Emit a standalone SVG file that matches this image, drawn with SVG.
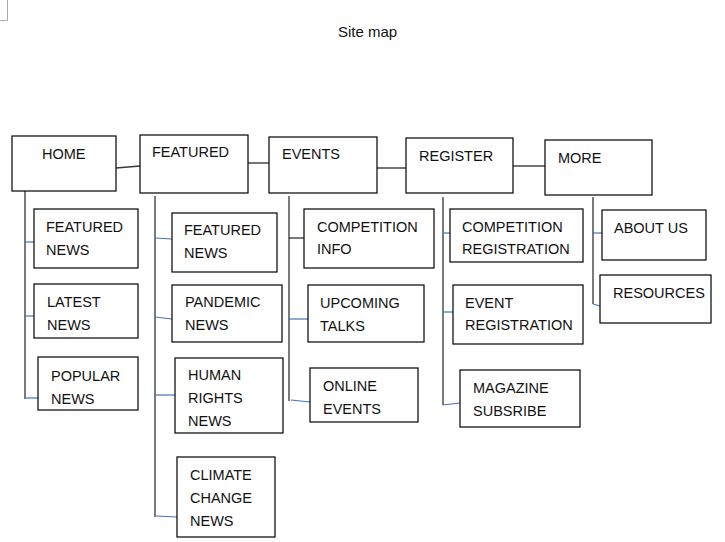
<svg xmlns="http://www.w3.org/2000/svg" width="725" height="542" viewBox="0 0 725 542">
<style>
rect.b{fill:#fff;stroke:#000;stroke-width:1.2}
text{font-family:"Liberation Sans",Arial,sans-serif;font-size:14.5px;fill:#111}
.v{stroke:#5a5a5a;stroke-width:1.6;fill:none}
.h{stroke:#3a3a3a;stroke-width:1.4;fill:none}
.br{stroke:#4472c4;stroke-width:1.2;fill:none}
.brk{stroke:#222;stroke-width:1.2;fill:none}
</style>
<rect width="725" height="542" fill="#fff"/>
<path d="M0 20.5H7.5V0" fill="none" stroke="#aaa" stroke-width="1"/>
<text x="338" y="37" style="font-size:15px">Site map</text>
<g id="connectors">
<path class="h" d="M116 168L140 166"/>
<path class="h" d="M248 163H269"/>
<path class="h" d="M377 168H406"/>
<path class="h" d="M513 166H545"/>
<path class="v" d="M25 191V399"/>
<path class="br" d="M25 242H34"/>
<path class="br" d="M25 316H34"/>
<path class="br" d="M25 398H38"/>
<path class="v" d="M155 196V517"/>
<path class="br" d="M155 238L172 239"/>
<path class="br" d="M155 317L172 319"/>
<path class="br" d="M156 395H175"/>
<path class="br" d="M156 516L177 517"/>
<path class="v" d="M289 196V401"/>
<path class="brk" d="M289 238H304"/>
<path class="br" d="M289 319L308 319"/>
<path class="br" d="M291 400L310 402"/>
<path class="v" d="M443 197V405"/>
<path class="br" d="M443 233H450"/>
<path class="br" d="M443 312H453"/>
<path class="br" d="M443 405L460 403"/>
<path class="v" d="M593 197V304"/>
<path class="br" d="M593 233H602"/>
<path class="br" d="M593 304L600 306"/>
</g>
<g id="home"><rect class="b" x="12" y="136" width="104" height="55"/><text x="42" y="159">HOME</text></g>
<g id="featured"><rect class="b" x="140" y="135" width="108" height="58"/><text x="152" y="157">FEATURED</text></g>
<g id="events"><rect class="b" x="269" y="137" width="108" height="56"/><text x="282" y="159">EVENTS</text></g>
<g id="register"><rect class="b" x="406" y="138" width="107" height="55"/><text x="419" y="161">REGISTER</text></g>
<g id="more"><rect class="b" x="545" y="140" width="107" height="55"/><text x="558" y="163">MORE</text></g>
<g id="home-featured-news"><rect class="b" x="34" y="209" width="104" height="59"/><text x="46" y="232">FEATURED</text><text x="46" y="255">NEWS</text></g>
<g id="latest-news"><rect class="b" x="34" y="284" width="104" height="54"/><text x="47" y="307">LATEST</text><text x="47" y="330">NEWS</text></g>
<g id="popular-news"><rect class="b" x="38" y="357" width="100" height="53"/><text x="51" y="381">POPULAR</text><text x="51" y="404">NEWS</text></g>
<g id="featured-news"><rect class="b" x="172" y="213" width="105" height="59"/><text x="184" y="235">FEATURED</text><text x="184" y="258">NEWS</text></g>
<g id="pandemic-news"><rect class="b" x="172" y="285" width="110" height="57"/><text x="185" y="307">PANDEMIC</text><text x="185" y="330">NEWS</text></g>
<g id="human-rights-news"><rect class="b" x="175" y="358" width="108" height="75"/><text x="188" y="380">HUMAN</text><text x="188" y="403">RIGHTS</text><text x="188" y="426">NEWS</text></g>
<g id="climate-change-news"><rect class="b" x="177" y="457" width="98" height="80"/><text x="190" y="480">CLIMATE</text><text x="190" y="503">CHANGE</text><text x="190" y="526">NEWS</text></g>
<g id="competition-info"><rect class="b" x="304" y="209" width="130" height="59"/><text x="317" y="232">COMPETITION</text><text x="317" y="254">INFO</text></g>
<g id="upcoming-talks"><rect class="b" x="308" y="285" width="116" height="57"/><text x="320" y="308">UPCOMING</text><text x="320" y="331">TALKS</text></g>
<g id="online-events"><rect class="b" x="310" y="368" width="108" height="54"/><text x="323" y="391">ONLINE</text><text x="323" y="414">EVENTS</text></g>
<g id="competition-registration"><rect class="b" x="450" y="209" width="133" height="53"/><text x="462" y="232">COMPETITION</text><text x="462" y="254">REGISTRATION</text></g>
<g id="event-registration"><rect class="b" x="453" y="285" width="130" height="59"/><text x="465" y="308">EVENT</text><text x="465" y="330">REGISTRATION</text></g>
<g id="magazine-subsribe"><rect class="b" x="460" y="370" width="120" height="57"/><text x="473" y="393">MAGAZINE</text><text x="473" y="416">SUBSRIBE</text></g>
<g id="about-us"><rect class="b" x="602" y="210" width="104" height="50"/><text x="614" y="233">ABOUT US</text></g>
<g id="resources"><rect class="b" x="600" y="275" width="111" height="48"/><text x="613" y="298">RESOURCES</text></g>
</svg>
